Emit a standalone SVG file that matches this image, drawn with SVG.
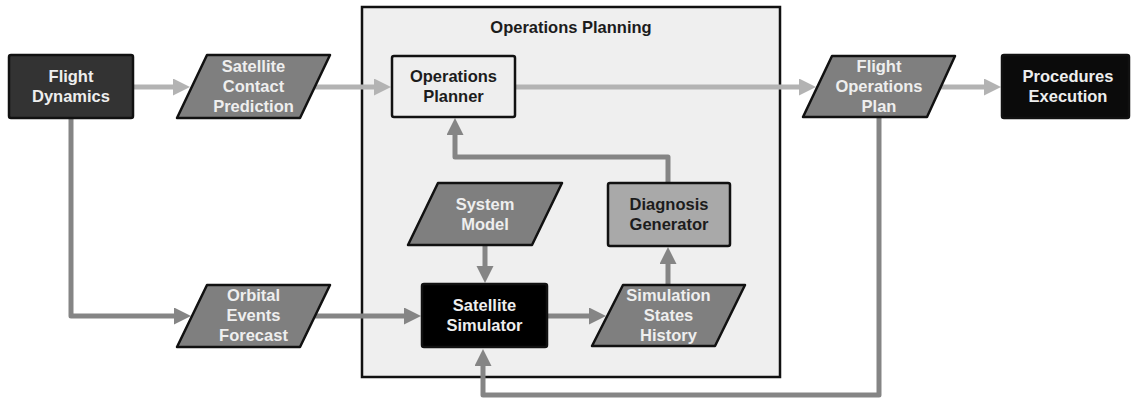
<svg xmlns="http://www.w3.org/2000/svg" width="1131" height="401" viewBox="0 0 1131 401">
  <style>
    .lbl { font-family: "Liberation Sans", Arial, sans-serif; font-weight: bold; font-size: 16.5px; text-anchor: middle; }
    .light { fill: #eeeeee; }
    .dark { fill: #1c1c1c; }
    .node { stroke: #111111; stroke-width: 2.5; stroke-linejoin: round; }
    .data { fill: #7f7f7f; }
    .flow { fill: none; stroke-width: 5; stroke-linejoin: round; }
    .flow-main { stroke: #b3b3b3; }
    .flow-aux { stroke: #858585; }
  </style>
  <defs>
    <marker id="head-main" markerUnits="userSpaceOnUse" markerWidth="18" markerHeight="18" refX="1" refY="8.5" orient="auto">
      <path d="M0,0 L17,8.5 L0,17 z" fill="#b3b3b3"/>
    </marker>
    <marker id="head-aux" markerUnits="userSpaceOnUse" markerWidth="18" markerHeight="18" refX="1" refY="8.5" orient="auto">
      <path d="M0,0 L17,8.5 L0,17 z" fill="#858585"/>
    </marker>
  </defs>

  <rect width="1131" height="401" fill="#ffffff"/>

  <!-- Operations Planning container -->
  <g id="operations-planning">
    <rect x="362" y="7" width="418" height="370" fill="#efefef" stroke="#111111" stroke-width="2.5"/>
    <text class="lbl dark" x="571" y="33">Operations Planning</text>
  </g>

  <!-- Connectors -->
  <g id="connectors">
    <path class="flow flow-main" d="M133,87 L174,87" marker-end="url(#head-main)"/>
    <path class="flow flow-main" d="M315,87 L375,87" marker-end="url(#head-main)"/>
    <path class="flow flow-main" d="M515,87 L800,87" marker-end="url(#head-main)"/>
    <path class="flow flow-main" d="M940,87 L985,87" marker-end="url(#head-main)"/>
    <path class="flow flow-aux" d="M71,118 L71,316 L175,316" marker-end="url(#head-aux)"/>
    <path class="flow flow-aux" d="M315,316 L405,316" marker-end="url(#head-aux)"/>
    <path class="flow flow-aux" d="M547,316 L590,316" marker-end="url(#head-aux)"/>
    <path class="flow flow-aux" d="M668,285 L668,263" marker-end="url(#head-aux)"/>
    <path class="flow flow-aux" d="M668,183 L668,157 L455,157 L455,134" marker-end="url(#head-aux)"/>
    <path class="flow flow-aux" d="M485,245 L485,267" marker-end="url(#head-aux)"/>
    <path class="flow flow-aux" d="M879,117 L879,395 L483,395 L483,365" marker-end="url(#head-aux)"/>
  </g>

  <!-- Nodes -->
  <g id="flight-dynamics">
    <rect class="node" x="9" y="55" width="124" height="63" rx="2" fill="#333333"/>
    <text class="lbl light" x="71" y="82">Flight</text>
    <text class="lbl light" x="71" y="102">Dynamics</text>
  </g>

  <g id="satellite-contact-prediction">
    <polygon class="node data" points="207,55 330,55 300,118 177,118"/>
    <text class="lbl light" x="253.5" y="72">Satellite</text>
    <text class="lbl light" x="253.5" y="92">Contact</text>
    <text class="lbl light" x="253.5" y="112">Prediction</text>
  </g>

  <g id="operations-planner">
    <rect class="node" x="392" y="56" width="123" height="61" rx="2" fill="#eeeeee"/>
    <text class="lbl dark" x="453.5" y="82">Operations</text>
    <text class="lbl dark" x="453.5" y="102">Planner</text>
  </g>

  <g id="flight-operations-plan">
    <polygon class="node data" points="832,56 955,56 927,117 803,117"/>
    <text class="lbl light" x="879" y="72">Flight</text>
    <text class="lbl light" x="879" y="92">Operations</text>
    <text class="lbl light" x="879" y="112">Plan</text>
  </g>

  <g id="procedures-execution">
    <rect class="node" x="1002" y="55" width="127" height="63" rx="2" fill="#0b0b0b"/>
    <text class="lbl light" x="1068" y="82">Procedures</text>
    <text class="lbl light" x="1068" y="102">Execution</text>
  </g>

  <g id="system-model">
    <polygon class="node data" points="438,183 562,183 532,245 408,245"/>
    <text class="lbl light" x="485" y="210">System</text>
    <text class="lbl light" x="485" y="230">Model</text>
  </g>

  <g id="diagnosis-generator">
    <rect class="node" x="608" y="183" width="122" height="63" rx="2" fill="#a9a9a9"/>
    <text class="lbl dark" x="669" y="210">Diagnosis</text>
    <text class="lbl dark" x="669" y="230">Generator</text>
  </g>

  <g id="orbital-events-forecast">
    <polygon class="node data" points="207,285 330,285 300,347 177,347"/>
    <text class="lbl light" x="253.5" y="301">Orbital</text>
    <text class="lbl light" x="253.5" y="321">Events</text>
    <text class="lbl light" x="253.5" y="341">Forecast</text>
  </g>

  <g id="satellite-simulator">
    <rect class="node" x="422" y="284" width="125" height="63" rx="2" fill="#000000"/>
    <text class="lbl light" x="484.5" y="311">Satellite</text>
    <text class="lbl light" x="484.5" y="331">Simulator</text>
  </g>

  <g id="simulation-states-history">
    <polygon class="node data" points="623,285 745,285 715,346 592,346"/>
    <text class="lbl light" x="668.5" y="301">Simulation</text>
    <text class="lbl light" x="668.5" y="321">States</text>
    <text class="lbl light" x="668.5" y="341">History</text>
  </g>
</svg>
